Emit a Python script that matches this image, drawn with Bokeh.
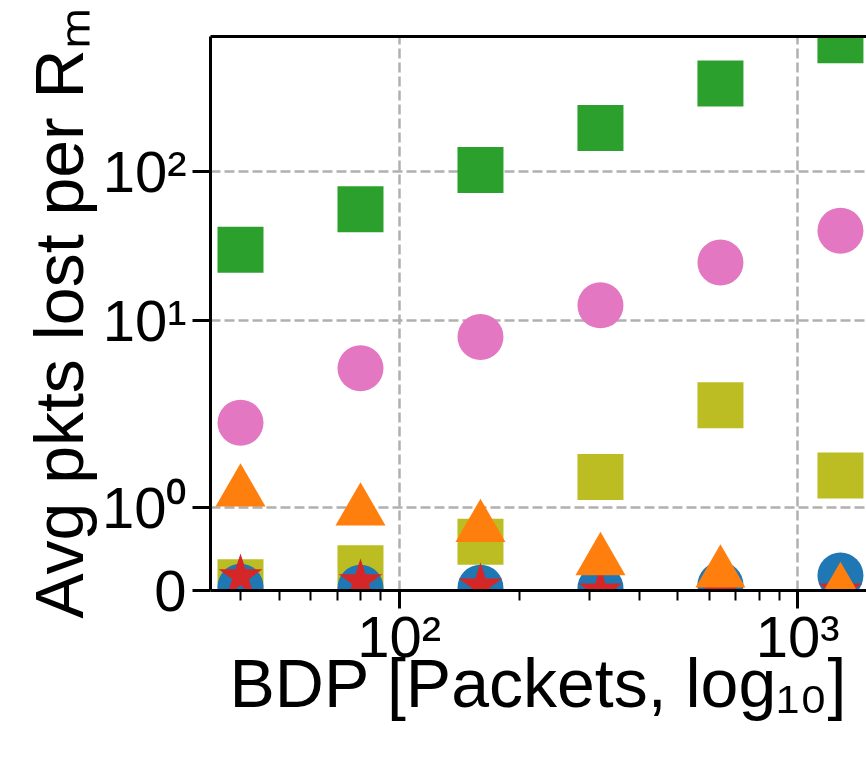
import numpy as np
from bokeh.plotting import figure
from bokeh.models import (ColumnDataSource, Range1d, FixedTicker, LogAxis,
                          CustomJSTickFormatter, CustomJSTransform)
from bokeh.transform import transform
from bokeh.embed import file_html
from bokeh.resources import INLINE

# ---------------- data ----------------
bdp = [40, 80, 160, 320, 640, 1280]
series_green_sq = [30, 56, 103, 197, 391, 764]
series_pink_circle = [2.07, 4.8, 7.8, 12.7, 24.6, 40.2]
series_olive_sq = [0.10, 0.27, 0.59, 1.37, 2.71, 1.39]
series_blue_circle = [0.046, 0.034, 0.034, 0.03, 0.066, 0.18]
series_red_star = [0.17, 0.11, 0.06, 0.0, 0.0, 0.0]
series_orange_tri = [1.19, 0.96, 0.76, 0.36, 0.21, 0.0]

x_tick_values = [100, 1000]
x_tick_labels = ["10\u00b2", "10\u00b3"]
y_tick_values = [0, 1, 10, 100]
y_tick_labels = ["0", "10\u2070", "10\u00b9", "10\u00b2"]
x_label = "BDP [Packets, log\u2081\u2080]"
y_label = "Avg pkts lost per R\u2098"

# ---------------- symlog scale (linthresh=2, linscale=1) ----------------
LINTHRESH = 2.0
LINSCALE = 1.0
ADJ = LINSCALE / (1.0 - 1.0 / 10.0)
X_LIMITS = (10 ** 1.5268, 10 ** 3.1726)
Y_LIMITS = (0.0, 810.0)


def symlog(v):
    v = np.asarray(v, dtype=float)
    a = np.abs(v)
    lg = np.sign(v) * LINTHRESH * (ADJ + np.log10(np.maximum(a, 1e-300) / LINTHRESH))
    return np.where(a <= LINTHRESH, v * ADJ, lg)


symlog_js = CustomJSTransform(args=dict(L=LINTHRESH, S=ADJ), func="""
    const a = Math.abs(x);
    return a <= L ? x * S : Math.sign(x) * L * (S + Math.log10(a / L));
""", v_func="""
    const out = new Float64Array(xs.length);
    for (let i = 0; i < xs.length; i++) {
        const v = xs[i];
        const a = Math.abs(v);
        out[i] = a <= L ? v * S : Math.sign(v) * L * (S + Math.log10(a / L));
    }
    return out;
""")

FONT = "Liberation Sans"

p = figure(width=866, height=762, output_backend="svg", toolbar_location=None,
           x_axis_type="log",
           x_range=Range1d(*X_LIMITS),
           y_range=Range1d(float(symlog(Y_LIMITS[0])), float(symlog(Y_LIMITS[1]))),
           min_border_left=210, min_border_right=0, min_border_top=36, min_border_bottom=172)
p.outline_line_color = None
p.background_fill_color = "white"
p.border_fill_color = "white"

src = ColumnDataSource(dict(x=bdp,
                            green=series_green_sq,
                            pink=series_pink_circle,
                            olive=series_olive_sq,
                            blue=series_blue_circle,
                            red=series_red_star,
                            orange=series_orange_tri))

MS = 46
p.scatter(x="x", y=transform("green", symlog_js), source=src, marker="square",
          size=MS, fill_color="#2ca02c", line_color=None)
p.scatter(x="x", y=transform("pink", symlog_js), source=src, marker="circle",
          size=MS, fill_color="#e377c2", line_color=None)
p.scatter(x="x", y=transform("olive", symlog_js), source=src, marker="square",
          size=MS, fill_color="#bcbd22", line_color=None)
p.scatter(x="x", y=transform("blue", symlog_js), source=src, marker="circle",
          size=MS, fill_color="#1f77b4", line_color=None)
p.scatter(x="x", y=transform("red", symlog_js), source=src, marker="star",
          size=MS, fill_color="#d62728", line_color=None)
p.scatter(x="x", y=transform("orange", symlog_js), source=src, marker="triangle",
          size=50, fill_color="#ff7f0e", line_color=None)

# ---------------- axes ----------------
xa = p.xaxis[0]
xa.ticker = FixedTicker(ticks=x_tick_values,
                        minor_ticks=[m * 10 ** k for k in (1, 2, 3) for m in range(2, 10)])
xa.formatter = CustomJSTickFormatter(args=dict(T=x_tick_values, L=x_tick_labels), code="""
    for (let i = 0; i < T.length; i++) {
        if (Math.abs(tick - T[i]) < 1e-6 * T[i]) return L[i];
    }
    return '';
""")
ya = p.yaxis[0]
y_ticks_t = [float(t) for t in symlog(y_tick_values)]
ya.ticker = FixedTicker(ticks=y_ticks_t, minor_ticks=[])
ya.formatter = CustomJSTickFormatter(args=dict(T=y_ticks_t, L=y_tick_labels), code="""
    for (let i = 0; i < T.length; i++) {
        if (Math.abs(tick - T[i]) < 1e-6) return L[i];
    }
    return '';
""")

for ax in (xa, ya):
    ax.axis_line_width = 3
    ax.axis_line_color = "black"
    ax.major_tick_line_width = 3
    ax.major_tick_out = 18
    ax.major_tick_in = 0
    ax.minor_tick_line_width = 2
    ax.minor_tick_out = 10
    ax.minor_tick_in = 0
    ax.major_label_text_font = FONT
    ax.major_label_text_font_size = "58px"
    ax.major_label_text_color = "black"
    ax.axis_label_text_font = FONT
    ax.axis_label_text_font_size = "68px"
    ax.axis_label_text_font_style = "normal"
    ax.axis_label_text_color = "black"

xa.axis_label = x_label
xa.major_label_standoff = -5
xa.axis_label_standoff = -27
ya.axis_label = y_label
ya.major_label_standoff = 6
ya.axis_label_standoff = 2

top = LogAxis(ticker=FixedTicker(ticks=[]), axis_line_width=3, axis_line_color="black",
              major_tick_out=0, major_tick_in=0, minor_tick_out=0, minor_tick_in=0)
p.add_layout(top, "above")

# ---------------- grid ----------------
for g in (p.xgrid[0], p.ygrid[0]):
    g.grid_line_color = "#b0b0b0"
    g.grid_line_width = 2.5
    g.grid_line_dash = "10 4"
p.xgrid[0].ticker = FixedTicker(ticks=x_tick_values)
p.ygrid[0].ticker = FixedTicker(ticks=y_ticks_t)

open("out.html", "w").write(file_html(p, INLINE))
